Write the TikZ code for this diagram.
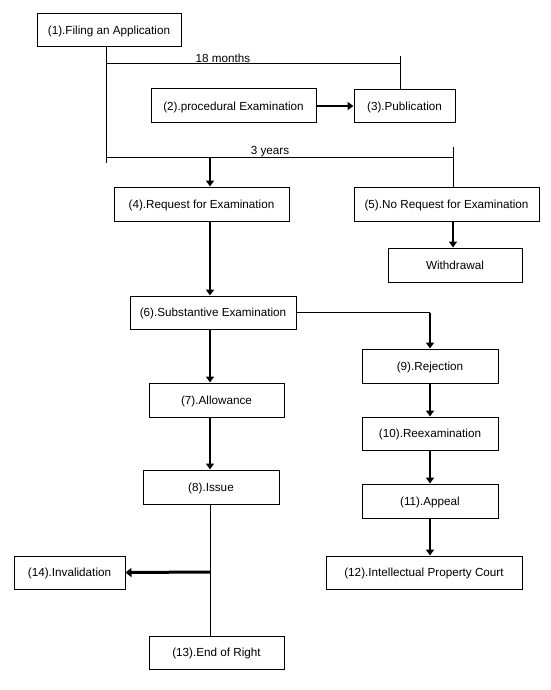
\documentclass[tikz,border=0pt]{standalone}
\usepackage{fontspec}
\setmainfont{Liberation Sans}
\usetikzlibrary{arrows.meta}
\tikzset{
  box/.style={draw, line width=1pt, inner sep=0pt, text height=8.3pt, text depth=0pt, font=\fontsize{11.7}{13}\selectfont},
  thin/.style={line width=1pt},
  arr/.style={line width=2pt, -{Triangle[length=6pt,width=8pt]}},
  bigarr/.style={line width=3pt, -{Triangle[length=6pt,width=9pt]}},
  lbl/.style={font=\fontsize{11.7}{13}\selectfont, inner sep=0pt, text height=8.3pt, text depth=0pt}
}
\begin{document}
\begin{tikzpicture}[x=1pt,y=-1pt]
\useasboundingbox (0,0) rectangle (550,690);
\node[box, minimum width=144pt, minimum height=33pt] (n1) at (109,30) {(1).Filing an Application};
\node[box, minimum width=165pt, minimum height=34pt] (n2) at (233.5,106) {(2).procedural Examination};
\node[box, minimum width=101pt, minimum height=33pt] (n3) at (404.5,106.5) {(3).Publication};
\node[box, minimum width=175pt, minimum height=34pt] (n4) at (201.5,204) {(4).Request for Examination};
\node[box, minimum width=185pt, minimum height=34pt] (n5) at (446.5,204) {(5).No Request for Examination};
\node[box, minimum width=134pt, minimum height=34pt] (nw) at (455,265) {Withdrawal};
\node[box, minimum width=166pt, minimum height=33pt] (n6) at (213,312.5) {(6).Substantive Examination};
\node[box, minimum width=136pt, minimum height=34pt] (n9) at (430,366) {(9).Rejection};
\node[box, minimum width=135pt, minimum height=34pt] (n7) at (216.5,400) {(7).Allowance};
\node[box, minimum width=136pt, minimum height=33pt] (n10) at (430,433.5) {(10).Reexamination};
\node[box, minimum width=136pt, minimum height=34pt] (n8) at (211,487) {(8).Issue};
\node[box, minimum width=136pt, minimum height=34pt] (n11) at (430,501) {(11).Appeal};
\node[box, minimum width=196pt, minimum height=33pt] (n12) at (424,572.5) {(12).Intellectual Property Court};
\node[box, minimum width=111pt, minimum height=33pt] (n14) at (69.5,572.5) {(14).Invalidation};
\node[box, minimum width=135pt, minimum height=33pt] (n13) at (216.5,652.5) {(13).End of Right};

\coordinate (t1) at (106,64);
\coordinate (t2) at (106,157);
\coordinate (tend) at (106,163);
\coordinate (p3) at (400,56);
\coordinate (p5) at (453,147);
\coordinate (d4) at (210,157);
\coordinate (jx) at (210,572);

\draw[thin] (n1.south -| t1) -- (tend);
\draw[thin] (t1) -- (t1 -| p3);
\draw[thin] (p3) -- (p3 |- n3.north);
\node[lbl] (m18) at (223,58) {18 months};
\draw[arr] (n2.east) -- (n2.east -| n3.west);
\draw[thin] (t2) -- (t2 -| p5);
\draw[thin] (p5) -- (p5 |- n5.north);
\node[lbl] (y3) at (270,150) {3 years};
\draw[arr] (d4) -- (d4 |- n4.north);
\draw[arr] (n4.south -| d4) -- (n6.north -| d4);
\draw[arr] (n5.south -| p5) -- (nw.north -| p5);
\draw[arr] (n6.south -| d4) -- (n7.north -| d4);
\draw[arr] (n7.south -| d4) -- (n8.north -| d4);
\draw[thin] (n6.east) -- (n6.east -| n9.north);
\draw[arr] (n6.east -| n9.north) -- (n9.north);
\draw[arr] (n9.south) -- (n10.north);
\draw[arr] (n10.south) -- (n11.north);
\draw[arr] (n11.south) -- (n12.north -| n11.south);
\draw[thin] (n8.south -| jx) -- (n13.north -| jx);
\draw[bigarr] (jx) -- (n14.east);
\end{tikzpicture}
\end{document}
